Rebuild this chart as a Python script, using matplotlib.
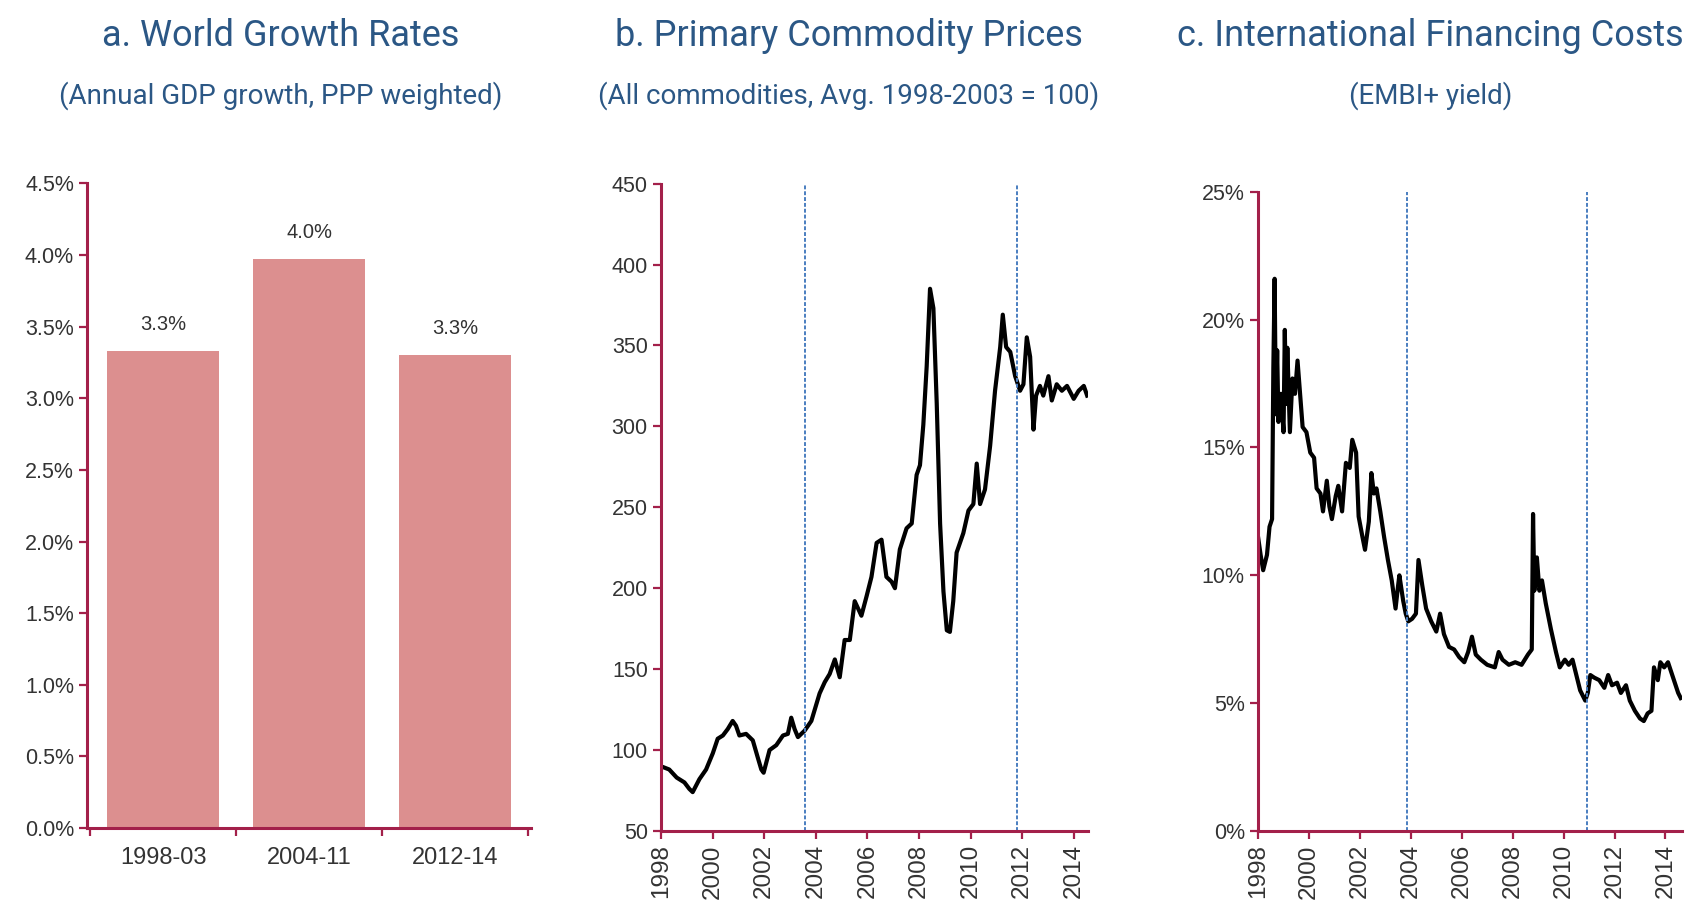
import matplotlib
matplotlib.use("Agg")
import matplotlib.pyplot as plt
import numpy as np

# ---------------- Data ----------------
growth_periods = ["1998-03", "2004-11", "2012-14"]
growth_values = [3.33, 3.97, 3.30]

commodity_years = [
    1998.00, 1998.32, 1998.61, 1998.91, 1999.10, 1999.23, 1999.49, 1999.75, 2000.01, 2000.20,
    2000.40, 2000.59, 2000.78, 2000.91, 2001.04, 2001.30, 2001.56, 2001.76, 2001.89, 2001.98,
    2002.21, 2002.47, 2002.73, 2002.92, 2003.05, 2003.18, 2003.31, 2003.57, 2003.83, 2004.15,
    2004.35, 2004.54, 2004.74, 2004.93, 2005.12, 2005.32, 2005.51, 2005.77, 2005.97, 2006.16,
    2006.36, 2006.55, 2006.74, 2006.94, 2007.07, 2007.26, 2007.52, 2007.72, 2007.91, 2008.04,
    2008.17, 2008.30, 2008.43, 2008.56, 2008.69, 2008.82, 2008.95, 2009.08, 2009.20, 2009.33,
    2009.46, 2009.72, 2009.92, 2010.11, 2010.24, 2010.37, 2010.56, 2010.76, 2010.95, 2011.15,
    2011.25, 2011.38, 2011.54, 2011.73, 2011.92, 2012.05, 2012.18, 2012.31, 2012.44, 2012.54,
    2012.69, 2012.82, 2013.02, 2013.15, 2013.34, 2013.54, 2013.74, 2014.00, 2014.19, 2014.39,
    2014.52,
]
commodity_index = [
    90, 88, 83, 80, 76, 74, 82, 88, 98, 107,
    109, 113, 118, 115, 109, 110, 106, 95, 88, 86,
    100, 103, 109, 110, 120, 113, 108, 112, 118, 135,
    142, 147, 156, 145, 168, 168, 192, 183, 195, 207,
    228, 230, 207, 204, 200, 224, 237, 240, 270, 276,
    301, 337, 385, 373, 314, 240, 198, 174, 173, 192,
    222, 234, 248, 252, 277, 252, 261, 288, 322, 349,
    369, 349, 346, 331, 322, 326, 355, 343, 298, 319,
    325, 319, 331, 316, 326, 322, 325, 317, 322, 325,
    319,
]

embi_years = [
    1998.00, 1998.10, 1998.20, 1998.35, 1998.45, 1998.55, 1998.60, 1998.65, 1998.70, 1998.75,
    1998.80, 1998.90, 1999.00, 1999.05, 1999.10, 1999.15, 1999.25, 1999.35, 1999.45, 1999.55,
    1999.65, 1999.75, 1999.90, 2000.05, 2000.20, 2000.30, 2000.45, 2000.55, 2000.70, 2000.80,
    2000.90, 2001.05, 2001.15, 2001.30, 2001.45, 2001.60, 2001.70, 2001.85, 2001.95, 2002.10,
    2002.20, 2002.35, 2002.45, 2002.55, 2002.65, 2002.80, 2002.95, 2003.10, 2003.25, 2003.40,
    2003.50, 2003.55, 2003.70, 2003.80, 2003.90, 2004.05, 2004.20, 2004.30, 2004.45, 2004.60,
    2004.80, 2005.00, 2005.15, 2005.30, 2005.50, 2005.70, 2005.90, 2006.10, 2006.25, 2006.40,
    2006.55, 2006.75, 2007.00, 2007.30, 2007.45, 2007.60, 2007.85, 2008.10, 2008.35, 2008.60,
    2008.75, 2008.80, 2008.85, 2008.95, 2009.05, 2009.15, 2009.30, 2009.50, 2009.70, 2009.85,
    2010.05, 2010.20, 2010.35, 2010.50, 2010.65, 2010.85, 2010.95, 2011.05, 2011.20, 2011.40,
    2011.60, 2011.75, 2011.90, 2012.10, 2012.25, 2012.45, 2012.60, 2012.80, 2013.00, 2013.15,
    2013.30, 2013.45, 2013.55, 2013.70, 2013.80, 2013.95, 2014.10, 2014.30, 2014.50, 2014.60,
]
embi_yield = [
    11.5, 10.8, 10.2, 10.8, 11.9, 12.2, 18.1, 21.6, 16.3, 18.8,
    16.0, 17.1, 15.6, 19.6, 16.7, 18.9, 15.6, 17.7, 17.1, 18.4,
    17.1, 15.8, 15.6, 14.8, 14.6, 13.4, 13.2, 12.5, 13.7, 12.7,
    12.2, 13.1, 13.5, 12.5, 14.4, 14.2, 15.3, 14.8, 12.3, 11.5,
    11.0, 12.1, 14.0, 13.2, 13.4, 12.5, 11.5, 10.6, 9.8, 8.7,
    9.6, 10.0, 9.0, 8.5, 8.2, 8.3, 8.5, 10.6, 9.6, 8.7,
    8.2, 7.8, 8.5, 7.7, 7.2, 7.1, 6.8, 6.6, 7.0, 7.6,
    6.9, 6.7, 6.5, 6.4, 7.0, 6.7, 6.5, 6.6, 6.5, 6.9,
    7.1, 12.4, 9.4, 10.7, 9.4, 9.8, 8.9, 7.9, 7.0, 6.4,
    6.7, 6.5, 6.7, 6.1, 5.5, 5.1, 5.4, 6.1, 6.0, 5.9,
    5.6, 6.1, 5.7, 5.8, 5.4, 5.7, 5.1, 4.7, 4.4, 4.3,
    4.6, 4.7, 6.4, 5.9, 6.6, 6.4, 6.6, 6.0, 5.4, 5.2,
]

commodity_marks = [2003.6, 2011.8]
embi_marks = [2003.85, 2010.9]

even_years = list(range(1998, 2015, 2))

# ---------------- Style ----------------
AXIS_RED = "#A3204A"
BAR_COL = "#DC8F8F"
TITLE_COL = "#2B5785"
TICK_COL = "#333333"
VLINE_COL = "#4A7EC0"
NARROW = ["Roboto", "DejaVu Sans"]
TICKFONT = ["Liberation Sans", "DejaVu Sans"]

plt.rcParams["font.family"] = TICKFONT

fig = plt.figure(figsize=(16.93, 9.17), dpi=100)
fig.patch.set_facecolor("white")


def style_axes(ax):
    for s in ["top", "right"]:
        ax.spines[s].set_visible(False)
    for s in ["left", "bottom"]:
        ax.spines[s].set_color(AXIS_RED)
        ax.spines[s].set_linewidth(2.2)
    ax.tick_params(axis="both", which="both", colors=AXIS_RED, width=1.6,
                   length=6, direction="out", labelcolor=TICK_COL,
                   labelsize=15.5)


# Panel a
axa = fig.add_axes([0.0515, 0.097, 0.2621, 0.703])
xa = np.arange(len(growth_periods))
axa.bar(xa, growth_values, width=0.77, color=BAR_COL)
axa.set_xlim(-0.52, 2.52)
axa.set_ylim(0, 4.5)
axa.set_yticks(np.arange(0, 4.51, 0.5))
axa.set_yticklabels([f"{v:.1f}%" for v in np.arange(0, 4.51, 0.5)])
axa.set_xticks(xa)
axa.set_xticklabels(growth_periods)
axa.set_xticks([-0.5, 0.5, 1.5, 2.5], minor=True)
style_axes(axa)
axa.tick_params(axis="x", which="major", length=0, pad=14, labelsize=17)
for x, v in zip(xa, growth_values):
    axa.text(x, v + 0.12, f"{v:.1f}%", ha="center", va="bottom",
             fontsize=14.5, color=TICK_COL)

# Panel b
axb = fig.add_axes([0.3904, 0.0938, 0.2522, 0.706])
axb.plot(commodity_years, commodity_index, color="black", lw=3.0)
for m in commodity_marks:
    axb.axvline(m, color=VLINE_COL, lw=1.4, ls=(0, (2, 1)))
axb.set_xlim(1998, 2014.55)
axb.set_ylim(50, 450)
axb.set_yticks(np.arange(50, 451, 50))
axb.set_xticks(even_years)
axb.set_xticklabels([str(y) for y in even_years], rotation=90)
style_axes(axb)
axb.tick_params(axis="x", labelsize=17.5)

# Panel c
axc = fig.add_axes([0.7431, 0.0938, 0.2504, 0.697])
axc.plot(embi_years, embi_yield, color="black", lw=3.0)
for m in embi_marks:
    axc.axvline(m, color=VLINE_COL, lw=1.4, ls=(0, (2, 1)))
axc.set_xlim(1998, 2014.65)
axc.set_ylim(0, 25)
axc.set_yticks(np.arange(0, 26, 5))
axc.set_yticklabels([f"{v}%" for v in range(0, 26, 5)])
axc.set_xticks(even_years)
axc.set_xticklabels([str(y) for y in even_years], rotation=90)
style_axes(axc)
axc.tick_params(axis="x", labelsize=17.5)

# Titles
titles = [
    (0.1658, "a. World Growth Rates", "(Annual GDP growth, PPP weighted)"),
    (0.5013, "b. Primary Commodity Prices", "(All commodities, Avg. 1998-2003 = 100)"),
    (0.8450, "c. International Financing Costs", "(EMBI+ yield)"),
]
for xc, t, s in titles:
    fig.text(xc, 0.961, t, ha="center", va="center", fontsize=26,
             color=TITLE_COL, family=NARROW)
    fig.text(xc, 0.896, s, ha="center", va="center", fontsize=20,
             color=TITLE_COL, family=NARROW)

fig.savefig("out.png", dpi=100, facecolor="white")
